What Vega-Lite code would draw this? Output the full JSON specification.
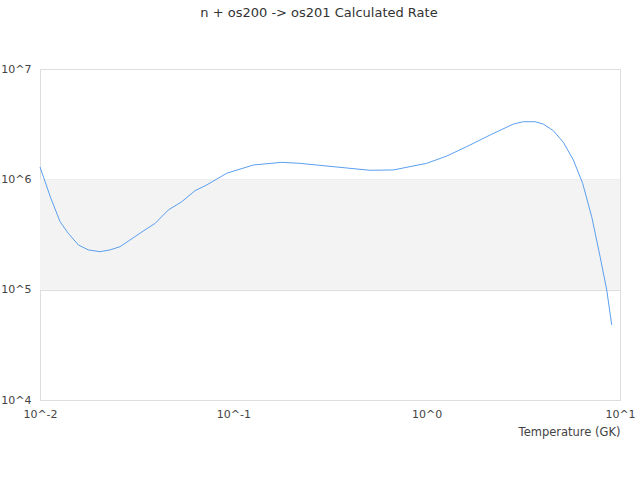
{
  "$schema": "https://vega.github.io/schema/vega-lite/v6.json",
  "autosize": "none",
  "width": 580,
  "height": 331,
  "padding": {"left": 40, "top": 69, "right": 20, "bottom": 80},
  "title": {
    "text": "n + os200 -> os201 Calculated Rate",
    "font": "DejaVu Sans",
    "fontSize": 13,
    "fontWeight": "normal",
    "color": "#333333",
    "anchor": "middle",
    "dx": -11,
    "offset": 43
  },
  "datasets": {
    "band": [{"lo": 100000, "hi": 1000000}],
    "rate": [
      {"T": 0.01, "rate": 1294000},
      {"T": 0.0113, "rate": 697000},
      {"T": 0.0127, "rate": 413000},
      {"T": 0.014, "rate": 324000},
      {"T": 0.0158, "rate": 254000},
      {"T": 0.0178, "rate": 229000},
      {"T": 0.0204, "rate": 221000},
      {"T": 0.023, "rate": 229000},
      {"T": 0.0259, "rate": 245000},
      {"T": 0.0292, "rate": 282000},
      {"T": 0.0349, "rate": 348000},
      {"T": 0.0394, "rate": 399000},
      {"T": 0.0461, "rate": 527000},
      {"T": 0.0541, "rate": 627000},
      {"T": 0.0634, "rate": 789000},
      {"T": 0.0728, "rate": 889000},
      {"T": 0.0924, "rate": 1135000},
      {"T": 0.127, "rate": 1349000},
      {"T": 0.178, "rate": 1426000},
      {"T": 0.221, "rate": 1396000},
      {"T": 0.356, "rate": 1285000},
      {"T": 0.509, "rate": 1208000},
      {"T": 0.672, "rate": 1216000},
      {"T": 0.82, "rate": 1303000},
      {"T": 1.0, "rate": 1396000},
      {"T": 1.27, "rate": 1626000},
      {"T": 1.61, "rate": 1977000},
      {"T": 2.13, "rate": 2523000},
      {"T": 2.81, "rate": 3170000},
      {"T": 3.16, "rate": 3327000},
      {"T": 3.63, "rate": 3327000},
      {"T": 4.01, "rate": 3170000},
      {"T": 4.52, "rate": 2760000},
      {"T": 5.09, "rate": 2168000},
      {"T": 5.74, "rate": 1496000},
      {"T": 6.41, "rate": 920000},
      {"T": 7.14, "rate": 458000},
      {"T": 7.89, "rate": 199000},
      {"T": 8.54, "rate": 99300},
      {"T": 9.06, "rate": 47900}
    ]
  },
  "encoding": {
    "x": {
      "type": "quantitative",
      "scale": {"type": "log", "domain": [0.01, 10], "nice": false},
      "axis": {
        "title": "Temperature (GK)",
        "titleAnchor": "end",
        "titleFont": "DejaVu Sans",
        "titleFontSize": 11.5,
        "titleFontWeight": "normal",
        "titleColor": "#444444",
        "titlePadding": 7,
        "values": [0.01, 0.1, 1, 10],
        "labelExpr": "'10^' + round(log(datum.value) / LN10)",
        "labelFont": "DejaVu Sans",
        "labelFontSize": 11,
        "labelColor": "#444444",
        "labelFlush": false,
        "labelPadding": 8,
        "ticks": false,
        "domain": false,
        "grid": false
      }
    },
    "y": {
      "type": "quantitative",
      "scale": {"type": "log", "domain": [10000, 10000000], "nice": false},
      "axis": {
        "title": null,
        "values": [10000, 100000, 1000000, 10000000],
        "labelExpr": "'10^' + round(log(datum.value) / LN10)",
        "labelFont": "DejaVu Sans",
        "labelFontSize": 11,
        "labelColor": "#444444",
        "labelPadding": 9,
        "ticks": false,
        "domain": false,
        "grid": true,
        "gridColor": "#dddddd"
      }
    }
  },
  "layer": [
    {
      "data": {"name": "band"},
      "mark": {"type": "rect", "color": "#f3f3f3"},
      "encoding": {
        "y": {"field": "lo", "type": "quantitative"},
        "y2": {"field": "hi"}
      }
    },
    {
      "data": {"name": "rate"},
      "mark": {"type": "line", "color": "#5b9ff0", "strokeWidth": 1},
      "encoding": {
        "x": {"field": "T", "type": "quantitative"},
        "y": {"field": "rate", "type": "quantitative"}
      }
    }
  ],
  "config": {
    "view": {"stroke": "#dddddd"},
    "background": "white"
  }
}
